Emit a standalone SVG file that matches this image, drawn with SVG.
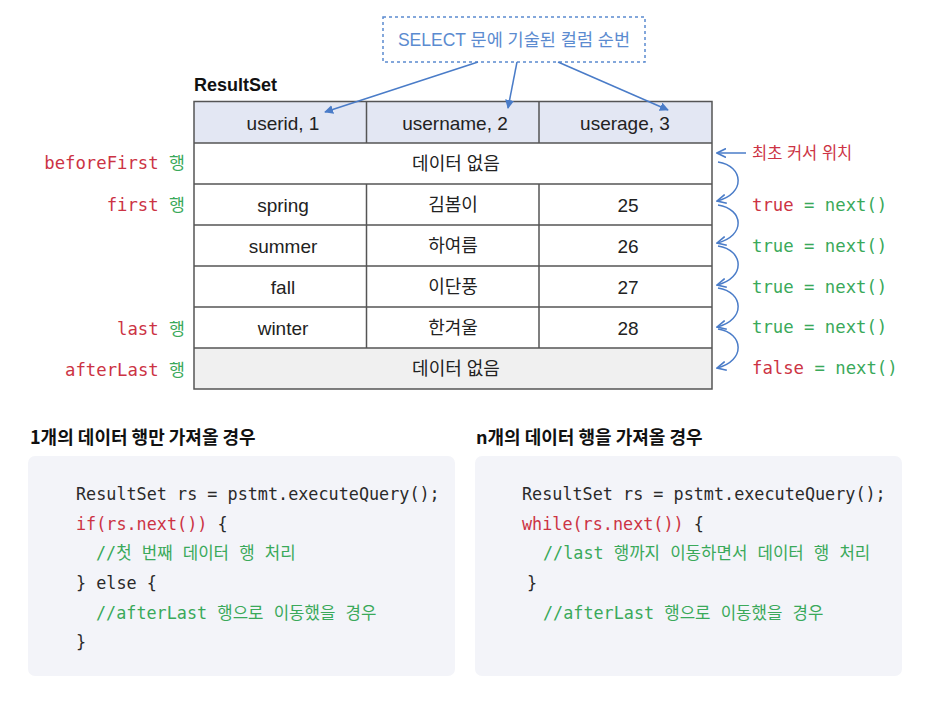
<svg xmlns="http://www.w3.org/2000/svg" width="936" height="705" viewBox="0 0 936 705">
<defs>
<style>
.sans{font-family:"Liberation Sans","Noto Sans CJK KR",sans-serif;}
.kr{font-family:"Noto Sans CJK KR","Noto Sans",sans-serif;}
.mono{font-family:"DejaVu Sans Mono","Noto Sans CJK KR",monospace;font-size:16.8px;}
.lbl{font-size:17.3px;}
.cell{font-size:19px;fill:#222;text-anchor:middle;dominant-baseline:central;}
.ko{font-size:18px;}
.red{fill:#cc3344;}
.grn{fill:#3aa95a;}
.blk{fill:#2a2a2a;}
.grid{stroke:#555;stroke-width:1.5;fill:none;}
.blue{stroke:#4a7cc8;stroke-width:1.5;fill:none;}
.code{fill:#f3f4f9;}
</style>
<marker id="fa" viewBox="0 0 10 10" refX="9" refY="5" markerWidth="9" markerHeight="9" markerUnits="userSpaceOnUse" orient="auto"><path d="M0,0 L10,5 L0,10 z" fill="#4a7cc8"/></marker>
<marker id="oa" viewBox="0 0 10 10" refX="9" refY="5" markerWidth="10" markerHeight="10" markerUnits="userSpaceOnUse" orient="auto"><path d="M0,0.5 L9,5 L0,9.5" fill="none" stroke="#4a7cc8" stroke-width="1.6"/></marker>
</defs>
<rect width="936" height="705" fill="#fff"/>

<g id="select-note">
<rect x="383" y="17" width="262" height="45" fill="#fff" stroke="#5b8bd0" stroke-width="1.5" stroke-dasharray="3,3"/>
<text x="514" y="40" class="sans" font-size="17.5" fill="#5b8bd0" text-anchor="middle" dominant-baseline="central">SELECT 문에 기술된 컬럼 순번</text>
</g>

<g id="resultset">
<text x="194" y="91" class="sans" font-size="18" font-weight="bold" fill="#111">ResultSet</text>
<rect x="194" y="101.5" width="518" height="41.5" fill="#e3e7f3"/>
<rect x="194" y="348" width="518" height="41" fill="#f0f0f0"/>
<rect x="194" y="101.5" width="518" height="287.5" class="grid"/>
<path class="grid" d="M194,143H712M194,184H712M194,225H712M194,266H712M194,307H712M194,348H712M366.5,101.5V143M539,101.5V143M366.5,184V348M539,184V348"/>
<g class="sans">
<text x="283" y="123" class="cell">userid, 1</text>
<text x="455" y="123" class="cell">username, 2</text>
<text x="625" y="123" class="cell">userage, 3</text>
<text x="456" y="164" class="cell ko">데이터 없음</text>
<text x="283" y="205" class="cell">spring</text>
<text x="453" y="205" class="cell ko">김봄이</text>
<text x="628" y="205" class="cell">25</text>
<text x="283" y="246" class="cell">summer</text>
<text x="453" y="246" class="cell ko">하여름</text>
<text x="628" y="246" class="cell">26</text>
<text x="283" y="287" class="cell">fall</text>
<text x="453" y="287" class="cell ko">이단풍</text>
<text x="628" y="287" class="cell">27</text>
<text x="283" y="328" class="cell">winter</text>
<text x="453" y="328" class="cell ko">한겨울</text>
<text x="628" y="328" class="cell">28</text>
<text x="456" y="369" class="cell ko">데이터 없음</text>
</g>
</g>

<g id="row-labels" class="mono lbl" text-anchor="end">
<text x="185" y="169"><tspan class="red">beforeFirst </tspan><tspan class="grn">행</tspan></text>
<text x="185" y="211"><tspan class="red">first </tspan><tspan class="grn">행</tspan></text>
<text x="185" y="335"><tspan class="red">last </tspan><tspan class="grn">행</tspan></text>
<text x="185" y="376"><tspan class="red">afterLast </tspan><tspan class="grn">행</tspan></text>
</g>

<g id="cursor-labels">
<text x="752" y="153" class="sans red" font-size="16.5" dominant-baseline="central">최초 커서 위치</text>
<g class="mono lbl">
<text x="752" y="211"><tspan class="red">true</tspan><tspan class="grn"> = next()</tspan></text>
<text x="752" y="252" class="grn">true = next()</text>
<text x="752" y="293" class="grn">true = next()</text>
<text x="752" y="333" class="grn">true = next()</text>
<text x="752" y="374"><tspan class="red">false</tspan><tspan class="grn"> = next()</tspan></text>
</g>
</g>

<g id="connectors">
<path class="blue" d="M478,62 L325,112" marker-end="url(#fa)"/>
<path class="blue" d="M517,62 L508,108" marker-end="url(#fa)"/>
<path class="blue" d="M558,62 L668,110" marker-end="url(#fa)"/>
<path class="blue" d="M746,153 L717,153" marker-end="url(#oa)"/>
<path class="blue" d="M718,162 C744,166 746,194 717,201" marker-end="url(#oa)"/>
<path class="blue" d="M718,205 C744,209 746,236 717,243" marker-end="url(#oa)"/>
<path class="blue" d="M718,246 C744,250 746,278 717,285" marker-end="url(#oa)"/>
<path class="blue" d="M718,288 C744,292 746,320 717,327" marker-end="url(#oa)"/>
<path class="blue" d="M718,329 C744,333 746,361 717,368" marker-end="url(#oa)"/>
</g>

<g id="code-single">
<text x="30" y="444" class="kr" font-size="18" font-weight="bold" fill="#111">1개의 데이터 행만 가져올 경우</text>
<rect x="28" y="456" width="427" height="220" rx="7" class="code"/>
<g class="mono">
<text x="76" y="500" class="blk">ResultSet rs = pstmt.executeQuery();</text>
<text x="76" y="530"><tspan class="red">if(rs.next())</tspan><tspan class="blk"> {</tspan></text>
<text x="96" y="559" class="grn">//첫 번째 데이터 행 처리</text>
<text x="76" y="589" class="blk">} else {</text>
<text x="96" y="619" class="grn">//afterLast 행으로 이동했을 경우</text>
<text x="76" y="648" class="blk">}</text>
</g>
</g>

<g id="code-multi">
<text x="476" y="444" class="kr" font-size="18" font-weight="bold" fill="#111">n개의 데이터 행을 가져올 경우</text>
<rect x="475" y="456" width="427" height="220" rx="7" class="code"/>
<g class="mono">
<text x="522" y="500" class="blk">ResultSet rs = pstmt.executeQuery();</text>
<text x="522" y="530"><tspan class="red">while(rs.next())</tspan><tspan class="blk"> {</tspan></text>
<text x="543" y="559" class="grn">//last 행까지 이동하면서 데이터 행 처리</text>
<text x="527" y="589" class="blk">}</text>
<text x="543" y="619" class="grn">//afterLast 행으로 이동했을 경우</text>
</g>
</g>
</svg>
